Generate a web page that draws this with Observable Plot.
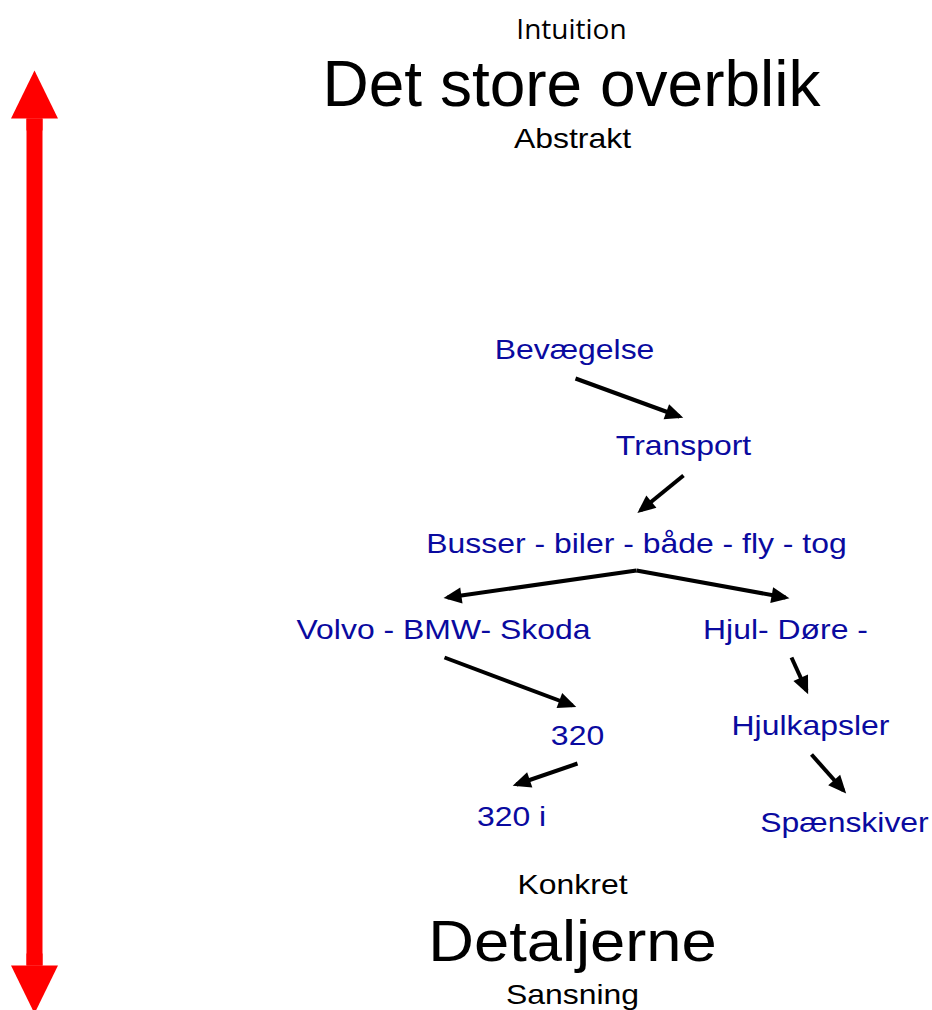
<!DOCTYPE html>
<html>
<head>
<meta charset="utf-8">
<script src="https://cdn.jsdelivr.net/npm/d3@7"></script>
<script src="https://cdn.jsdelivr.net/npm/@observablehq/plot@0.6"></script>
<style>
  html, body { margin: 0; padding: 0; background: #ffffff; }
  #chart svg { display: block; }
</style>
</head>
<body>
<div id="chart"></div>
<script>
// ---- Diagram content (layout coordinates of the 932 x 1010 canvas) ----
const nodeLabels = ["Bevægelse", "Transport", "Busser - biler - både - fly - tog",
  "Volvo - BMW- Skoda", "Hjul- Døre -", "320", "Hjulkapsler", "320 i", "Spænskiver"];
const nodeX = [574, 683, 636, 443, 785, 577, 810, 511, 844];
const nodeY = [358, 454, 552, 638, 638, 744, 734, 825, 831];

const poleLabels = ["Abstrakt", "Konkret", "Sansning"];
const poleX = [572, 572, 572];
const poleY = [147, 893, 1003];

const topLabels = ["Intuition"];
const topX = [571];
const topY = [38];

const headLabels = ["Det store overblik"];
const headX = [571];
const headY = [105];

const detailLabels = ["Detaljerne"];
const detailX = [572];
const detailY = [960];

// Arrows between nodes (from -> to)
const arrowFromX = [575, 683, 636, 636, 444, 577, 791, 811];
const arrowFromY = [378, 475, 570, 570, 657, 763, 657, 754];
const arrowToX   = [679, 640, 447, 785, 572, 516, 806, 843];
const arrowToY   = [416, 510, 597, 597, 705, 784, 690, 790];

// Red double-headed scale arrow: shaft plus the two heads
const scaleX = 34;
const scaleTop = 118;
const scaleBottom = 965;

// ---- Build tables ----
const table = (labels, xs, ys) => labels.map((t, i) => ({t, x: xs[i], y: ys[i]}));
const nodes = table(nodeLabels, nodeX, nodeY);
const poles = table(poleLabels, poleX, poleY);
const tops = table(topLabels, topX, topY);
const heads = table(headLabels, headX, headY);
const details = table(detailLabels, detailX, detailY);
const arrows = arrowFromX.map((_, i) => ({x1: arrowFromX[i], y1: arrowFromY[i], x2: arrowToX[i], y2: arrowToY[i]}));
const scaleShaft = [{x: scaleX, y1: scaleTop, y2: scaleBottom}];
const scaleHeads = [
  {x: scaleX, y1: scaleTop + 12, y2: scaleTop},
  {x: scaleX, y1: scaleBottom - 12, y2: scaleBottom}
];

const ARIAL = "'Liberation Sans', Arial, sans-serif";

const chart = Plot.plot({
  width: 932,
  height: 1010,
  margin: 0,
  x: {type: "identity", axis: null},
  y: {type: "identity", axis: null},
  style: {background: "#ffffff"},
  marks: [
    Plot.link(scaleShaft, {x1: "x", y1: "y1", x2: "x", y2: "y2", stroke: "#ff0000", strokeWidth: 16}),
    Plot.link(scaleHeads, {x1: "x", y1: "y1", x2: "x", y2: "y2", stroke: "#ff0000", strokeWidth: 16, markerEnd: "arrow"}),
    Plot.link(arrows, {x1: "x1", y1: "y1", x2: "x2", y2: "y2", stroke: "#000000", strokeWidth: 4, markerEnd: "arrow"}),
    Plot.text(tops, {x: "x", y: "y", text: "t", fontSize: 28, fontFamily: "'Open Sans', sans-serif", fill: "#000", textAnchor: "middle", lineAnchor: "bottom"}),
    Plot.text(heads, {x: "x", y: "y", text: "t", fontSize: 64, fontFamily: ARIAL, fill: "#000", textAnchor: "middle", lineAnchor: "bottom"}),
    Plot.text(details, {x: "x", y: "y", text: "t", fontSize: 57, fontFamily: ARIAL, fill: "#000", textAnchor: "middle", lineAnchor: "bottom"}),
    Plot.text(poles, {x: "x", y: "y", text: "t", fontSize: 28, fontFamily: ARIAL, fill: "#000", textAnchor: "middle", lineAnchor: "bottom"}),
    Plot.text(nodes, {x: "x", y: "y", text: "t", fontSize: 28, fontFamily: ARIAL, fill: "#0a0a9f", textAnchor: "middle", lineAnchor: "bottom"})
  ]
});

document.getElementById("chart").appendChild(chart);

// Filled arrowheads
d3.select(chart).selectAll("marker").each(function () {
  const m = d3.select(this);
  const c = m.attr("stroke") || "#000";
  const col = d3.color(c);
  const isRed = col && col.r > 200 && col.g < 80;
  m.attr("overflow", "visible").attr("fill", c).attr("stroke", "none");
  m.select("path")
    .attr("stroke", "none")
    .attr("fill", c)
    .attr("d", isRed ? "M0,-2.2L4.5,0L0,2.2Z" : "M-5.25,-3L1.5,0L-5.25,3Z");
});

// Slight horizontal stretch of the text as in the original slide
function stretch(labels, k) {
  d3.select(chart).selectAll("text").each(function () {
    if (!labels.includes(this.textContent)) return;
    const w = this.getComputedTextLength();
    this.setAttribute("textLength", (w * k).toFixed(1));
    this.setAttribute("lengthAdjust", "spacingAndGlyphs");
  });
}
stretch(nodeLabels, 1.14);
stretch(poleLabels, 1.14);
stretch(detailLabels, 1.11);
</script>
</body>
</html>
